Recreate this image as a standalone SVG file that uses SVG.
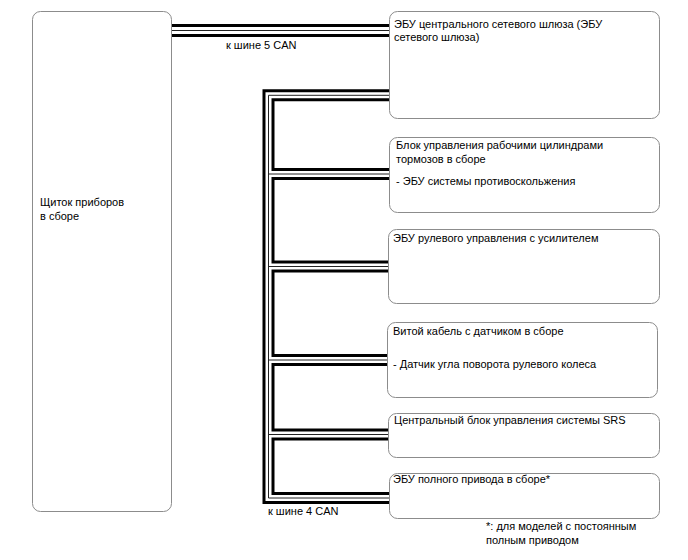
<svg xmlns="http://www.w3.org/2000/svg" width="688" height="560" viewBox="0 0 688 560">
<style>
.box{fill:#fff;stroke:#8c8c8c;stroke-width:1}
.t{font-family:"Liberation Sans",Arial,sans-serif;font-size:11px;fill:#000}
.c1{fill:none;stroke:#000;stroke-width:12;stroke-linejoin:miter}
.c2{fill:none;stroke:#fff;stroke-width:6;stroke-linejoin:miter}
.c3{fill:none;stroke:#222;stroke-width:1;stroke-linejoin:miter}
</style>
<rect width="688" height="560" fill="#fff"/>
<g id="connectors">
<g class="c1">
<path d="M172,30.5 H390" style="stroke-width:13"/>
<path d="M389,95.3 H268.5 V498 H389"/>
<path d="M268.5,174 H389"/>
<path d="M268.5,266.5 H389"/>
<path d="M268.5,360 H387"/>
<path d="M268.5,434.5 H389"/>
</g>
<g class="c2">
<path d="M172,30.5 H390" style="stroke-width:7"/>
<path d="M389,95.3 H268.5 V498 H389"/>
<path d="M268.5,174 H389"/>
<path d="M268.5,266.5 H389"/>
<path d="M268.5,360 H387"/>
<path d="M268.5,434.5 H389"/>
</g>
<g class="c3">
<path d="M172,30.5 H390"/>
<path d="M389,95.3 H268.5 V498 H389"/>
<path d="M268.5,174 H389"/>
<path d="M268.5,266.5 H389"/>
<path d="M268.5,360 H387"/>
<path d="M268.5,434.5 H389"/>
</g>
<text class="t" x="226" y="49">к шине 5 CAN</text>
<text class="t" x="268" y="515">к шине 4 CAN</text>
</g>
<g id="n0">
<rect class="box" x="32.5" y="11.5" width="139" height="500" rx="8"/>
<text class="t" x="40" y="206">Щиток приборов</text>
<text class="t" x="40" y="220">в сборе</text>
</g>
<g id="n1">
<rect class="box" x="389.5" y="11.5" width="270" height="107" rx="8"/>
<text class="t" x="394" y="28">ЭБУ центрального сетевого шлюза (ЭБУ</text>
<text class="t" x="394" y="41">сетевого шлюза)</text>
</g>
<g id="n2">
<rect class="box" x="389.5" y="137.5" width="270" height="75" rx="8"/>
<text class="t" x="396" y="149">Блок управления рабочими цилиндрами</text>
<text class="t" x="396" y="163">тормозов в сборе</text>
<text class="t" x="396" y="185"> - ЭБУ системы противоскольжения</text>
</g>
<g id="n3">
<rect class="box" x="388.5" y="229.5" width="271" height="74" rx="8"/>
<text class="t" x="393" y="242">ЭБУ рулевого управления с усилителем</text>
</g>
<g id="n4">
<rect class="box" x="387.5" y="322.5" width="270" height="75" rx="8"/>
<text class="t" x="393" y="335">Витой кабель с датчиком в сборе</text>
<text class="t" x="393" y="368">- Датчик угла поворота рулевого колеса</text>
</g>
<g id="n5">
<rect class="box" x="388.5" y="413.5" width="271" height="44" rx="8"/>
<text class="t" x="394" y="424">Центральный блок управления системы SRS</text>
</g>
<g id="n6">
<rect class="box" x="389.5" y="473.5" width="270" height="45" rx="8"/>
<text class="t" x="393" y="483">ЭБУ полного привода в сборе*</text>
<text class="t" x="486" y="530">*: для моделей с постоянным</text>
<text class="t" x="486" y="544">полным приводом</text>
</g>
</svg>
